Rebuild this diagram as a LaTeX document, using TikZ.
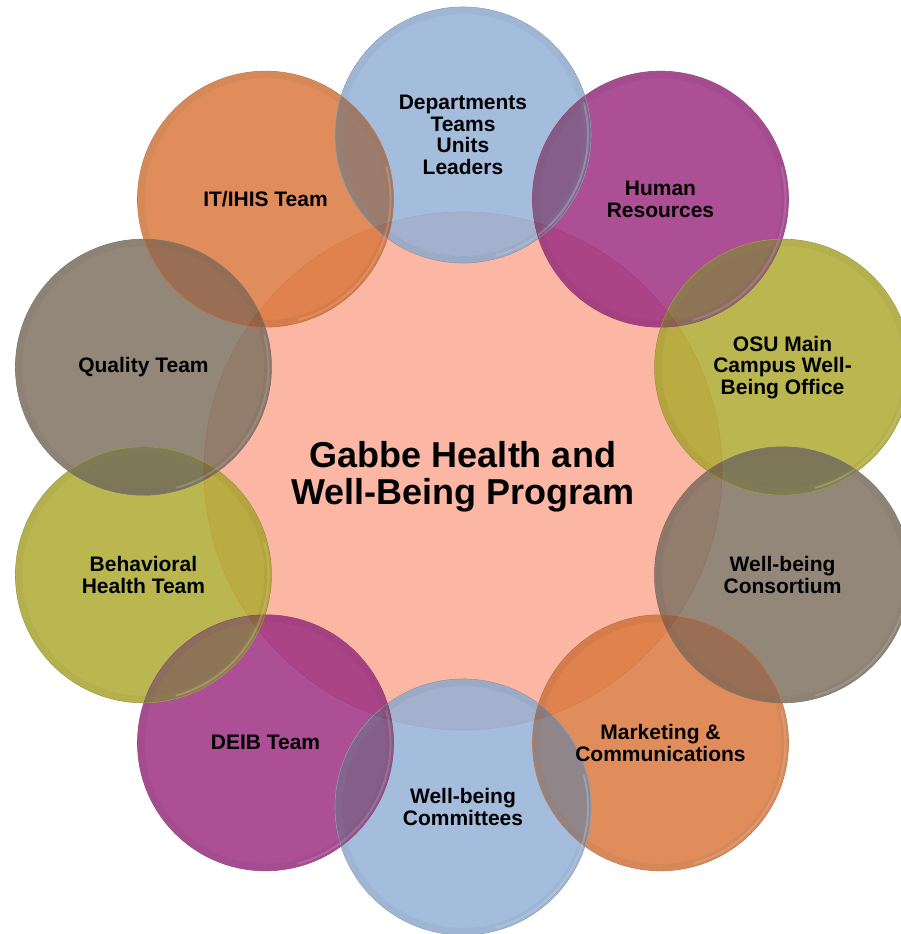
\documentclass[tikz,border=0pt]{standalone}
\usepackage{fontspec}
\setmainfont{Liberation Sans}

% bubble colours (before the ring is faded to 85%)
\definecolor{ringblue}{RGB}{148,177,215}
\definecolor{ringmagenta}{RGB}{157,48,131}
\definecolor{ringolive}{RGB}{175,170,49}
\definecolor{ringgrey}{RGB}{128,114,99}
\definecolor{ringorange}{RGB}{218,121,62}
\definecolor{hubpink}{RGB}{252,182,164}
\definecolor{hubedge}{RGB}{226,128,104}

\tikzset{
  hub/.style={circle, fill=hubpink, draw=hubedge, line width=0.6pt,
    minimum size=518pt, inner sep=0pt},
  bubble/.style={circle, minimum size=256pt, inner sep=0pt},
  hubtext/.style={align=center, font=\bfseries\fontsize{36}{37}\selectfont},
  bubbletext/.style={align=center, font=\bfseries\fontsize{21}{21.5}\selectfont}
}

\begin{document}
\begin{tikzpicture}[x=1pt,y=1pt]
    \useasboundingbox (-463,-463) rectangle (438,471);

    % Program in the middle
    \node[hub] (gabbe) at (0,0) {};

    % Ring of partners, faded as a whole over the middle
    \begin{scope}[transparency group, opacity=0.85]
        \foreach \ang/\col/\id in {90/ringblue/dept, 54/ringmagenta/hr,
            18/ringolive/osu, -18/ringgrey/consort, -54/ringorange/market,
            -90/ringblue/commit, -126/ringmagenta/deib, -162/ringolive/behav,
            162/ringgrey/quality, 126/ringorange/itihis}
            \node[bubble, fill=\col] (\id) at (\ang:336) {};

        % where two neighbours overlap, the later one on top and darker
        \foreach \a/\b/\ca/\cb in {dept/hr/ringblue/ringmagenta,
            hr/osu/ringmagenta/ringolive, osu/consort/ringolive/ringgrey,
            consort/market/ringgrey/ringorange, market/commit/ringorange/ringblue,
            commit/deib/ringblue/ringmagenta, deib/behav/ringmagenta/ringolive,
            behav/quality/ringolive/ringgrey, quality/itihis/ringgrey/ringorange,
            dept/itihis/ringblue/ringorange}
        {
            \begin{scope}
                \clip (\a.center) circle (128);
                \fill[\cb!65!\ca!72!black] (\b.center) circle (128);
            \end{scope}
        }

        % soft rims
        \foreach \col/\id in {ringblue/dept, ringmagenta/hr, ringolive/osu,
            ringgrey/consort, ringorange/market, ringblue/commit,
            ringmagenta/deib, ringolive/behav, ringgrey/quality,
            ringorange/itihis}
        {
            \draw[\col!70!black, opacity=0.15, line width=6pt] (\id.center) circle (124);
            \draw[\col!55!white, opacity=0.3, line width=2pt] (\id.center) ++(-75:125) arc (-75:15:125);
            \draw[\col!80!black, line width=0.6pt] (\id.center) circle (128);
        }
    \end{scope}

    % Labels
    \node[hubtext] (gabbe-t) at (0,-6) {Gabbe Health and\\Well-Being Program};
    \node[bubbletext] (dept-t) at (dept) {Departments\\Teams\\Units\\Leaders};
    \node[bubbletext] (hr-t) at (hr) {Human\\Resources};
    \node[bubbletext] (osu-t) at (osu) {OSU Main\\Campus Well-\\Being Office};
    \node[bubbletext] (consort-t) at (consort) {Well-being\\Consortium};
    \node[bubbletext] (market-t) at (market) {Marketing \&\\Communications};
    \node[bubbletext] (commit-t) at (commit) {Well-being\\Committees};
    \node[bubbletext] (deib-t) at (deib) {DEIB Team};
    \node[bubbletext] (behav-t) at (behav) {Behavioral\\Health Team};
    \node[bubbletext] (quality-t) at (quality) {Quality Team};
    \node[bubbletext] (itihis-t) at (itihis) {IT/IHIS Team};
\end{tikzpicture}
\end{document}
